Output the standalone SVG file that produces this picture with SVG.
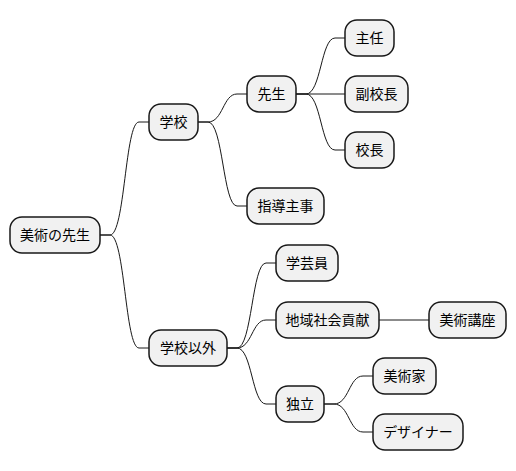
<svg xmlns="http://www.w3.org/2000/svg" width="516" height="471" viewBox="0 0 516 471">
<style>
.n rect{fill:#F1F1F1;stroke:#181818;stroke-width:1.5}
.n text{font-family:"Noto Sans CJK JP","Noto Sans CJK SC",sans-serif;font-size:14px;fill:#000;text-anchor:middle}
#edges path{fill:none;stroke:#181818;stroke-width:1}
</style>
<rect width="516" height="471" fill="#fff"/>
<g id="edges">
<path d="M100,235 L110,235 C125,235 125,122 139,122 L149,122"/>
<path d="M100,235 L110,235 C125,235 125,348 139,348 L149,348"/>
<path d="M198,122 L208,122 C223,122 223,94 237,94 L247,94"/>
<path d="M198,122 L208,122 C223,122 223,206 237,206 L247,206"/>
<path d="M296,94 L306,94 C321,94 321,38 335,38 L345,38"/>
<path d="M296,94 L345,94"/>
<path d="M296,94 L306,94 C321,94 321,150 335,150 L345,150"/>
<path d="M227,348 L237,348 C252,348 252,263 266,263 L276,263"/>
<path d="M227,348 L237,348 C252,348 252,320 266,320 L276,320"/>
<path d="M227,348 L237,348 C252,348 252,404 266,404 L276,404"/>
<path d="M379,320 L429,320"/>
<path d="M324,404 L334,404 C349,404 349,376 363,376 L373,376"/>
<path d="M324,404 L334,404 C349,404 349,432 363,432 L373,432"/>
</g>
<g id="root" class="n"><rect x="10" y="217" width="90" height="36" rx="12"/><text x="55" y="240">美術の先生</text></g>
<g id="gakko" class="n"><rect x="149" y="104" width="49" height="36" rx="12"/><text x="173.5" y="127">学校</text></g>
<g id="sensei" class="n"><rect x="247" y="76" width="49" height="36" rx="12"/><text x="271.5" y="99">先生</text></g>
<g id="shunin" class="n"><rect x="345" y="20" width="49" height="36" rx="12"/><text x="369.5" y="43">主任</text></g>
<g id="fukukocho" class="n"><rect x="345" y="76" width="63" height="36" rx="12"/><text x="376.5" y="99">副校長</text></g>
<g id="kocho" class="n"><rect x="345" y="132" width="49" height="36" rx="12"/><text x="369.5" y="155">校長</text></g>
<g id="shidoshuji" class="n"><rect x="247" y="188" width="77" height="36" rx="12"/><text x="285.5" y="211">指導主事</text></g>
<g id="gakkoigai" class="n"><rect x="149" y="330" width="78" height="36" rx="12"/><text x="188" y="353">学校以外</text></g>
<g id="gakugeiin" class="n"><rect x="276" y="245" width="62" height="36" rx="12"/><text x="307" y="268">学芸員</text></g>
<g id="chiiki" class="n"><rect x="276" y="302" width="103" height="36" rx="12"/><text x="327.5" y="325">地域社会貢献</text></g>
<g id="bijutsukoza" class="n"><rect x="429" y="302" width="77" height="36" rx="12"/><text x="467.5" y="325">美術講座</text></g>
<g id="dokuritsu" class="n"><rect x="276" y="386" width="48" height="36" rx="12"/><text x="300" y="409">独立</text></g>
<g id="bijutsuka" class="n"><rect x="373" y="358" width="63" height="36" rx="12"/><text x="404.5" y="381">美術家</text></g>
<g id="designer" class="n"><rect x="373" y="414" width="90" height="36" rx="12"/><text x="418" y="437">デザイナー</text></g>
</svg>
